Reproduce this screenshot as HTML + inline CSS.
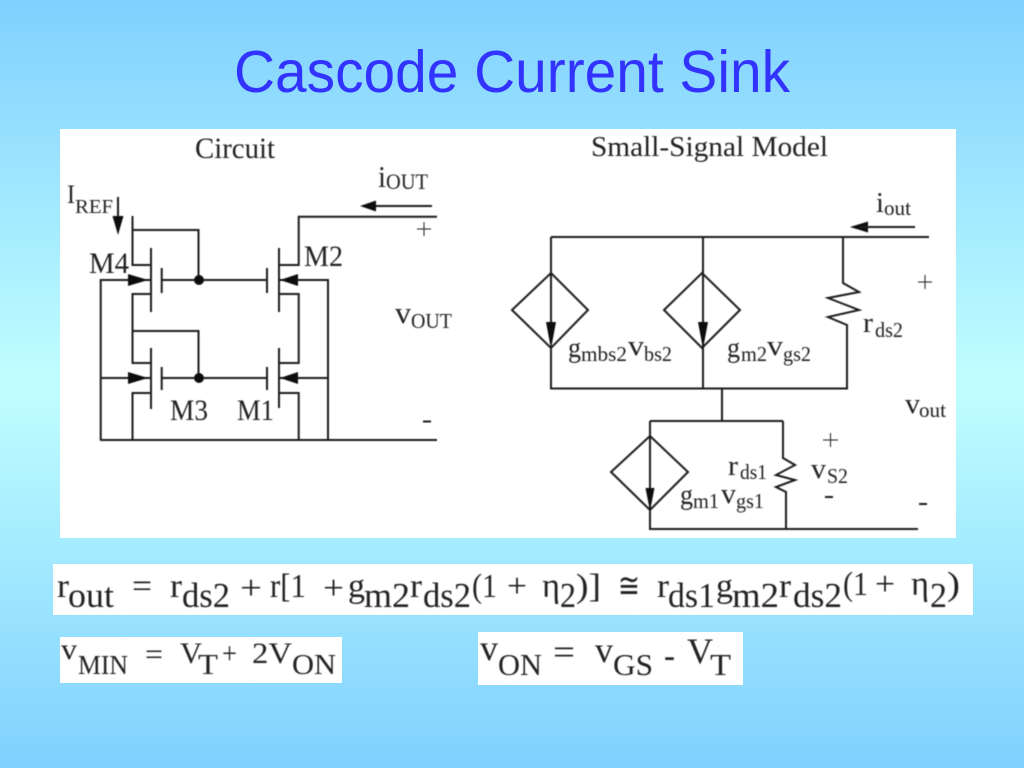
<!DOCTYPE html>
<html><head><meta charset="utf-8"><title>Cascode Current Sink</title>
<style>
html,body{margin:0;padding:0;width:1024px;height:768px;overflow:hidden;background:linear-gradient(180deg,#80d0ff 0%,#c0ffff 50%,#80d0ff 100%)}
svg{position:absolute;left:0;top:0}
text{font-family:"Liberation Serif",serif;fill:#222}
.l{fill:none;stroke:#1c1c1c;stroke-width:2}
.h{fill:#111;stroke:none}
</style></head><body>
<svg width="1024" height="768" viewBox="0 0 1024 768" xmlns="http://www.w3.org/2000/svg">
<defs><filter id="b" x="0" y="0" width="100%" height="100%"><feGaussianBlur stdDeviation="0.45"/></filter></defs>
<text x="234" y="92" style="font-family:'Liberation Sans',sans-serif;fill:#3333ff" font-size="59" textLength="556" lengthAdjust="spacingAndGlyphs">Cascode Current Sink</text>
<rect x="60" y="129" width="896" height="409" fill="#fff"/>
<rect x="53" y="564" width="920" height="51" fill="#fff"/>
<rect x="60" y="637" width="282" height="46" fill="#fff"/>
<rect x="478" y="632" width="265" height="53" fill="#fff"/>
<g filter="url(#b)">
<!-- circuit -->
<path class="l" d="M132.5 216V265H151M132.5 230H198.5V280M151 248V312M161.7 268V293M162 280H267M267 268V293M279 248V312M279 265H298.7V216.7H437M279 294H298.7V363H279M279 348V408M267 367V390M162 378H267M279 393H298.7V440M100 440H437M151 294H132.5V363H151M132.5 331H198.5V378M151 348V409M161.7 367V390M151 393H132.5V440M100.7 440V280H151M100 378H151M328 440V280H279M328 378H279"/>
<circle class="h" cx="199" cy="280" r="5"/><circle class="h" cx="199" cy="378" r="5"/>
<path class="h" d="M148 280L128 274V286ZM148 378L128 372V384ZM280 280L298 274V286ZM280 378L298 372V384Z"/>
<path class="l" d="M118 197V220M432 206H372"/>
<path class="h" d="M118 235L112.500 216H123.500ZM360 206L376 200.500V211.500Z"/>
<path class="l" style="stroke-width:1" d="M417 229H431M424 222V236"/>
<path class="l" d="M423 421.500H431"/>
<text x="195" y="158" font-size="30" textLength="80" lengthAdjust="spacingAndGlyphs">Circuit</text>
<text x="378" y="187" font-size="31" textLength="8" lengthAdjust="spacingAndGlyphs">i</text>
<text x="386" y="189" font-size="22" textLength="42" lengthAdjust="spacingAndGlyphs">OUT</text>
<text x="67" y="203" font-size="26" textLength="8" lengthAdjust="spacingAndGlyphs">I</text>
<text x="75" y="213" font-size="20" textLength="38" lengthAdjust="spacingAndGlyphs">REF</text>
<text x="89" y="273" font-size="30" textLength="40" lengthAdjust="spacingAndGlyphs">M4</text>
<text x="304" y="266" font-size="30" textLength="39" lengthAdjust="spacingAndGlyphs">M2</text>
<text x="170" y="420" font-size="30" textLength="38" lengthAdjust="spacingAndGlyphs">M3</text>
<text x="237" y="420" font-size="30" textLength="37" lengthAdjust="spacingAndGlyphs">M1</text>
<text x="395" y="323" font-size="31" textLength="16" lengthAdjust="spacingAndGlyphs">v</text>
<text x="411" y="328" font-size="21" textLength="41" lengthAdjust="spacingAndGlyphs">OUT</text>
<!-- small signal -->
<path class="l" d="M551 237H929M551 237V273M551 348V388.500H848M703 237V388.500M512 310L551 273L588 310L551 348ZM664 310L702 273L740 310L702 348ZM551 273V325M703 273V325M843 237V283L859 292L828 298L859 310L828 317L847 325V388.500"/>
<path class="h" d="M551 349L546 322H556ZM703 349L698 322H708ZM850 227L868 221.500V232.500Z"/>
<path class="l" d="M915 227H860"/>
<path class="l" style="stroke-width:1" d="M918 282H932M925 275V289"/>
<path class="l" d="M722 388.500V421M650 421H783M650 421V529H918M611 472L650 436L688 472L650 510ZM650 436V490M783 421V458L795 465L776 475L795 480L776 487L786 492V529"/>
<path class="h" d="M650 511L645.500 488H654.500Z"/>
<path class="l" style="stroke-width:1" d="M823 440H838M830.500 433V447"/>
<path class="l" d="M825 497H833M919 504H927"/>
<text x="591" y="156" font-size="29" textLength="237" lengthAdjust="spacingAndGlyphs">Small-Signal Model</text>
<text x="876" y="212" font-size="29" textLength="8" lengthAdjust="spacingAndGlyphs">i</text>
<text x="884" y="215" font-size="21" textLength="27" lengthAdjust="spacingAndGlyphs">out</text>
<text x="863" y="332" font-size="29" textLength="10" lengthAdjust="spacingAndGlyphs">r</text>
<text x="875" y="337" font-size="21" textLength="28" lengthAdjust="spacingAndGlyphs">ds2</text>
<text x="568" y="357" font-size="29" textLength="13" lengthAdjust="spacingAndGlyphs">g</text>
<text x="581" y="361" font-size="21" textLength="46" lengthAdjust="spacingAndGlyphs">mbs2</text>
<text x="628" y="355" font-size="29" textLength="16" lengthAdjust="spacingAndGlyphs">v</text>
<text x="644" y="361" font-size="21" textLength="28" lengthAdjust="spacingAndGlyphs">bs2</text>
<text x="727" y="357" font-size="29" textLength="13" lengthAdjust="spacingAndGlyphs">g</text>
<text x="741" y="361" font-size="21" textLength="26" lengthAdjust="spacingAndGlyphs">m2</text>
<text x="767" y="355" font-size="29" textLength="16" lengthAdjust="spacingAndGlyphs">v</text>
<text x="783" y="361" font-size="21" textLength="28" lengthAdjust="spacingAndGlyphs">gs2</text>
<text x="905" y="413" font-size="29" textLength="15" lengthAdjust="spacingAndGlyphs">v</text>
<text x="919" y="417" font-size="21" textLength="27" lengthAdjust="spacingAndGlyphs">out</text>
<text x="728" y="475" font-size="29" textLength="10" lengthAdjust="spacingAndGlyphs">r</text>
<text x="740" y="479" font-size="21" textLength="27" lengthAdjust="spacingAndGlyphs">ds1</text>
<text x="811" y="478" font-size="29" textLength="15" lengthAdjust="spacingAndGlyphs">v</text>
<text x="827" y="483" font-size="21" textLength="21" lengthAdjust="spacingAndGlyphs">S2</text>
<text x="680" y="504" font-size="29" textLength="13" lengthAdjust="spacingAndGlyphs">g</text>
<text x="693" y="508" font-size="21" textLength="26" lengthAdjust="spacingAndGlyphs">m1</text>
<text x="721" y="503" font-size="29" textLength="15" lengthAdjust="spacingAndGlyphs">v</text>
<text x="736" y="508" font-size="21" textLength="28" lengthAdjust="spacingAndGlyphs">gs1</text>
<!-- main equation -->
<g font-size="34">
<text x="57" y="597" textLength="12" lengthAdjust="spacingAndGlyphs">r</text>
<text x="132" y="597" textLength="20" lengthAdjust="spacingAndGlyphs">=</text>
<text x="170" y="597" textLength="12" lengthAdjust="spacingAndGlyphs">r</text>
<text x="240" y="599" textLength="22" lengthAdjust="spacingAndGlyphs">+</text>
<text x="270" y="597" textLength="36" lengthAdjust="spacingAndGlyphs">r[1</text>
<text x="323" y="599" textLength="21" lengthAdjust="spacingAndGlyphs">+</text>
<text x="348" y="597" textLength="17" lengthAdjust="spacingAndGlyphs">g</text>
<text x="410" y="597" textLength="12" lengthAdjust="spacingAndGlyphs">r</text>
<text x="472" y="597" textLength="25" lengthAdjust="spacingAndGlyphs">(1</text>
<text x="507" y="597" textLength="20" lengthAdjust="spacingAndGlyphs">+</text>
<text x="542" y="597" textLength="18" lengthAdjust="spacingAndGlyphs">η</text>
<text x="576" y="597" textLength="25" lengthAdjust="spacingAndGlyphs">)]</text>
<text x="618" y="597" textLength="22" lengthAdjust="spacingAndGlyphs" style="font-family:'Liberation Serif','DejaVu Sans',serif">≅</text>
<text x="657" y="597" textLength="12" lengthAdjust="spacingAndGlyphs">r</text>
<text x="716" y="597" textLength="17" lengthAdjust="spacingAndGlyphs">g</text>
<text x="779" y="597" textLength="12" lengthAdjust="spacingAndGlyphs">r</text>
<text x="843" y="595" textLength="25" lengthAdjust="spacingAndGlyphs">(1</text>
<text x="875" y="595" textLength="20" lengthAdjust="spacingAndGlyphs">+</text>
<text x="911" y="595" textLength="18" lengthAdjust="spacingAndGlyphs">η</text>
<text x="947" y="595" textLength="13" lengthAdjust="spacingAndGlyphs">)</text>
</g>
<g font-size="35">
<text x="68" y="607" textLength="46" lengthAdjust="spacingAndGlyphs">out</text>
<text x="182" y="607" textLength="48" lengthAdjust="spacingAndGlyphs">ds2</text>
<text x="364" y="607" textLength="46" lengthAdjust="spacingAndGlyphs">m2</text>
<text x="423" y="607" textLength="48" lengthAdjust="spacingAndGlyphs">ds2</text>
<text x="560" y="607" textLength="16" lengthAdjust="spacingAndGlyphs">2</text>
<text x="668" y="607" textLength="47" lengthAdjust="spacingAndGlyphs">ds1</text>
<text x="732" y="607" textLength="47" lengthAdjust="spacingAndGlyphs">m2</text>
<text x="793" y="607" textLength="49" lengthAdjust="spacingAndGlyphs">ds2</text>
<text x="930" y="607" textLength="17" lengthAdjust="spacingAndGlyphs">2</text>
</g>
<!-- vmin -->
<g font-size="30">
<text x="61" y="659" textLength="16" lengthAdjust="spacingAndGlyphs">v</text>
<text x="145" y="664" textLength="18" lengthAdjust="spacingAndGlyphs">=</text>
<text x="180" y="663" textLength="22" lengthAdjust="spacingAndGlyphs">V</text>
<text x="222" y="663" textLength="15" lengthAdjust="spacingAndGlyphs">+</text>
<text x="252" y="663" textLength="40" lengthAdjust="spacingAndGlyphs">2V</text>
<text x="78" y="674" font-size="27" textLength="50" lengthAdjust="spacingAndGlyphs">MIN</text>
<text x="198" y="674" font-size="29" textLength="20" lengthAdjust="spacingAndGlyphs">T</text>
<text x="292" y="674" font-size="29" textLength="44" lengthAdjust="spacingAndGlyphs">ON</text>
</g>
<!-- von -->
<g font-size="36">
<text x="480" y="660" textLength="18" lengthAdjust="spacingAndGlyphs">v</text>
<text x="553" y="664" textLength="22" lengthAdjust="spacingAndGlyphs">=</text>
<text x="595" y="662" textLength="18" lengthAdjust="spacingAndGlyphs">v</text>
<text x="664" y="667" textLength="11" lengthAdjust="spacingAndGlyphs">-</text>
<text x="687" y="663" textLength="26" lengthAdjust="spacingAndGlyphs">V</text>
<text x="498" y="675" textLength="44" lengthAdjust="spacingAndGlyphs" font-size="31">ON</text>
<text x="613" y="675" textLength="40" lengthAdjust="spacingAndGlyphs" font-size="31">GS</text>
<text x="710" y="675" textLength="21" lengthAdjust="spacingAndGlyphs" font-size="31">T</text>
</g>
</g>
</svg>
</body></html>
